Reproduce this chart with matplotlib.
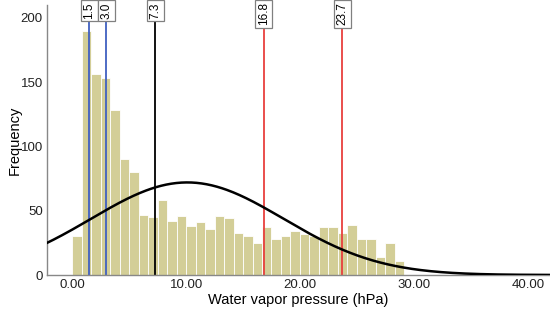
import numpy as np
import matplotlib
matplotlib.use("Agg")
import matplotlib.pyplot as plt
from matplotlib.transforms import blended_transform_factory

# histogram of water vapor pressure (counts per bin)
bin_start = 0.03
bin_width = 0.831
counts = [30, 190, 156, 153, 128, 90, 80, 47, 45, 58,
          42, 46, 38, 41, 36, 46, 44, 33, 30, 25,
          37, 28, 30, 34, 32, 30, 37, 37, 33, 39,
          28, 28, 14, 25, 11]

# fitted normal curve
curve_mean = 10.1
curve_sd = 8.45
curve_peak = 72.0

# reference lines
line_values = [1.5, 3.0, 7.3, 16.8, 23.7]
line_labels = ["1.5", "3.0", "7.3", "16.8", "23.7"]
line_colors = ["#4060c0", "#4060c0", "#000000", "#e8403e", "#e8403e"]

x_ticks = [0, 10, 20, 30, 40]
x_ticklabels = ["0.00", "10.00", "20.00", "30.00", "40.00"]
y_ticks = [0, 50, 100, 150, 200]

plt.rcParams["font.family"] = ["Liberation Sans", "DejaVu Sans"]

fig = plt.figure(figsize=(5.5, 3.15), dpi=100)
ax = fig.add_axes([47 / 550, 40 / 315, 1 - 47 / 550, 270 / 315])

lefts = bin_start + bin_width * np.arange(len(counts))
ax.bar(lefts, counts, width=bin_width, align="edge",
       color="#d3ce97", edgecolor="white", linewidth=0.6, zorder=1)

xs = np.linspace(-2.3, 42, 400)
ys = curve_peak * np.exp(-0.5 * ((xs - curve_mean) / curve_sd) ** 2)
ax.plot(xs, ys, color="black", linewidth=1.8, zorder=3)

trans = blended_transform_factory(ax.transData, ax.transAxes)
for val, lab, col in zip(line_values, line_labels, line_colors):
    ax.axvline(val, color=col, linewidth=1.3, zorder=2)
    ax.text(val, 1.01, lab, transform=trans, rotation=90, ha="center",
            va="top", fontsize=8.5, zorder=5, clip_on=False,
            bbox=dict(boxstyle="square,pad=0.2", facecolor="white",
                      edgecolor="#808080", linewidth=0.9))

ax.set_xlim(-2.2, 41.9)
ax.set_ylim(0, 210)
ax.set_xticks(x_ticks)
ax.set_xticklabels(x_ticklabels)
ax.set_yticks(y_ticks)
ax.tick_params(length=0, labelsize=9.5, pad=3, colors="#222222")

for side in ["top", "right"]:
    ax.spines[side].set_visible(False)
for side in ["left", "bottom"]:
    ax.spines[side].set_color("#888888")
    ax.spines[side].set_linewidth(1.0)

ax.set_xlabel("Water vapor pressure (hPa)", fontsize=10.5)
ax.set_ylabel("Frequency", fontsize=10.5)
ax.yaxis.set_label_coords(-0.05, 0.5)
ax.xaxis.set_label_coords(0.5, -0.068)

fig.savefig("out.png", dpi=100)
